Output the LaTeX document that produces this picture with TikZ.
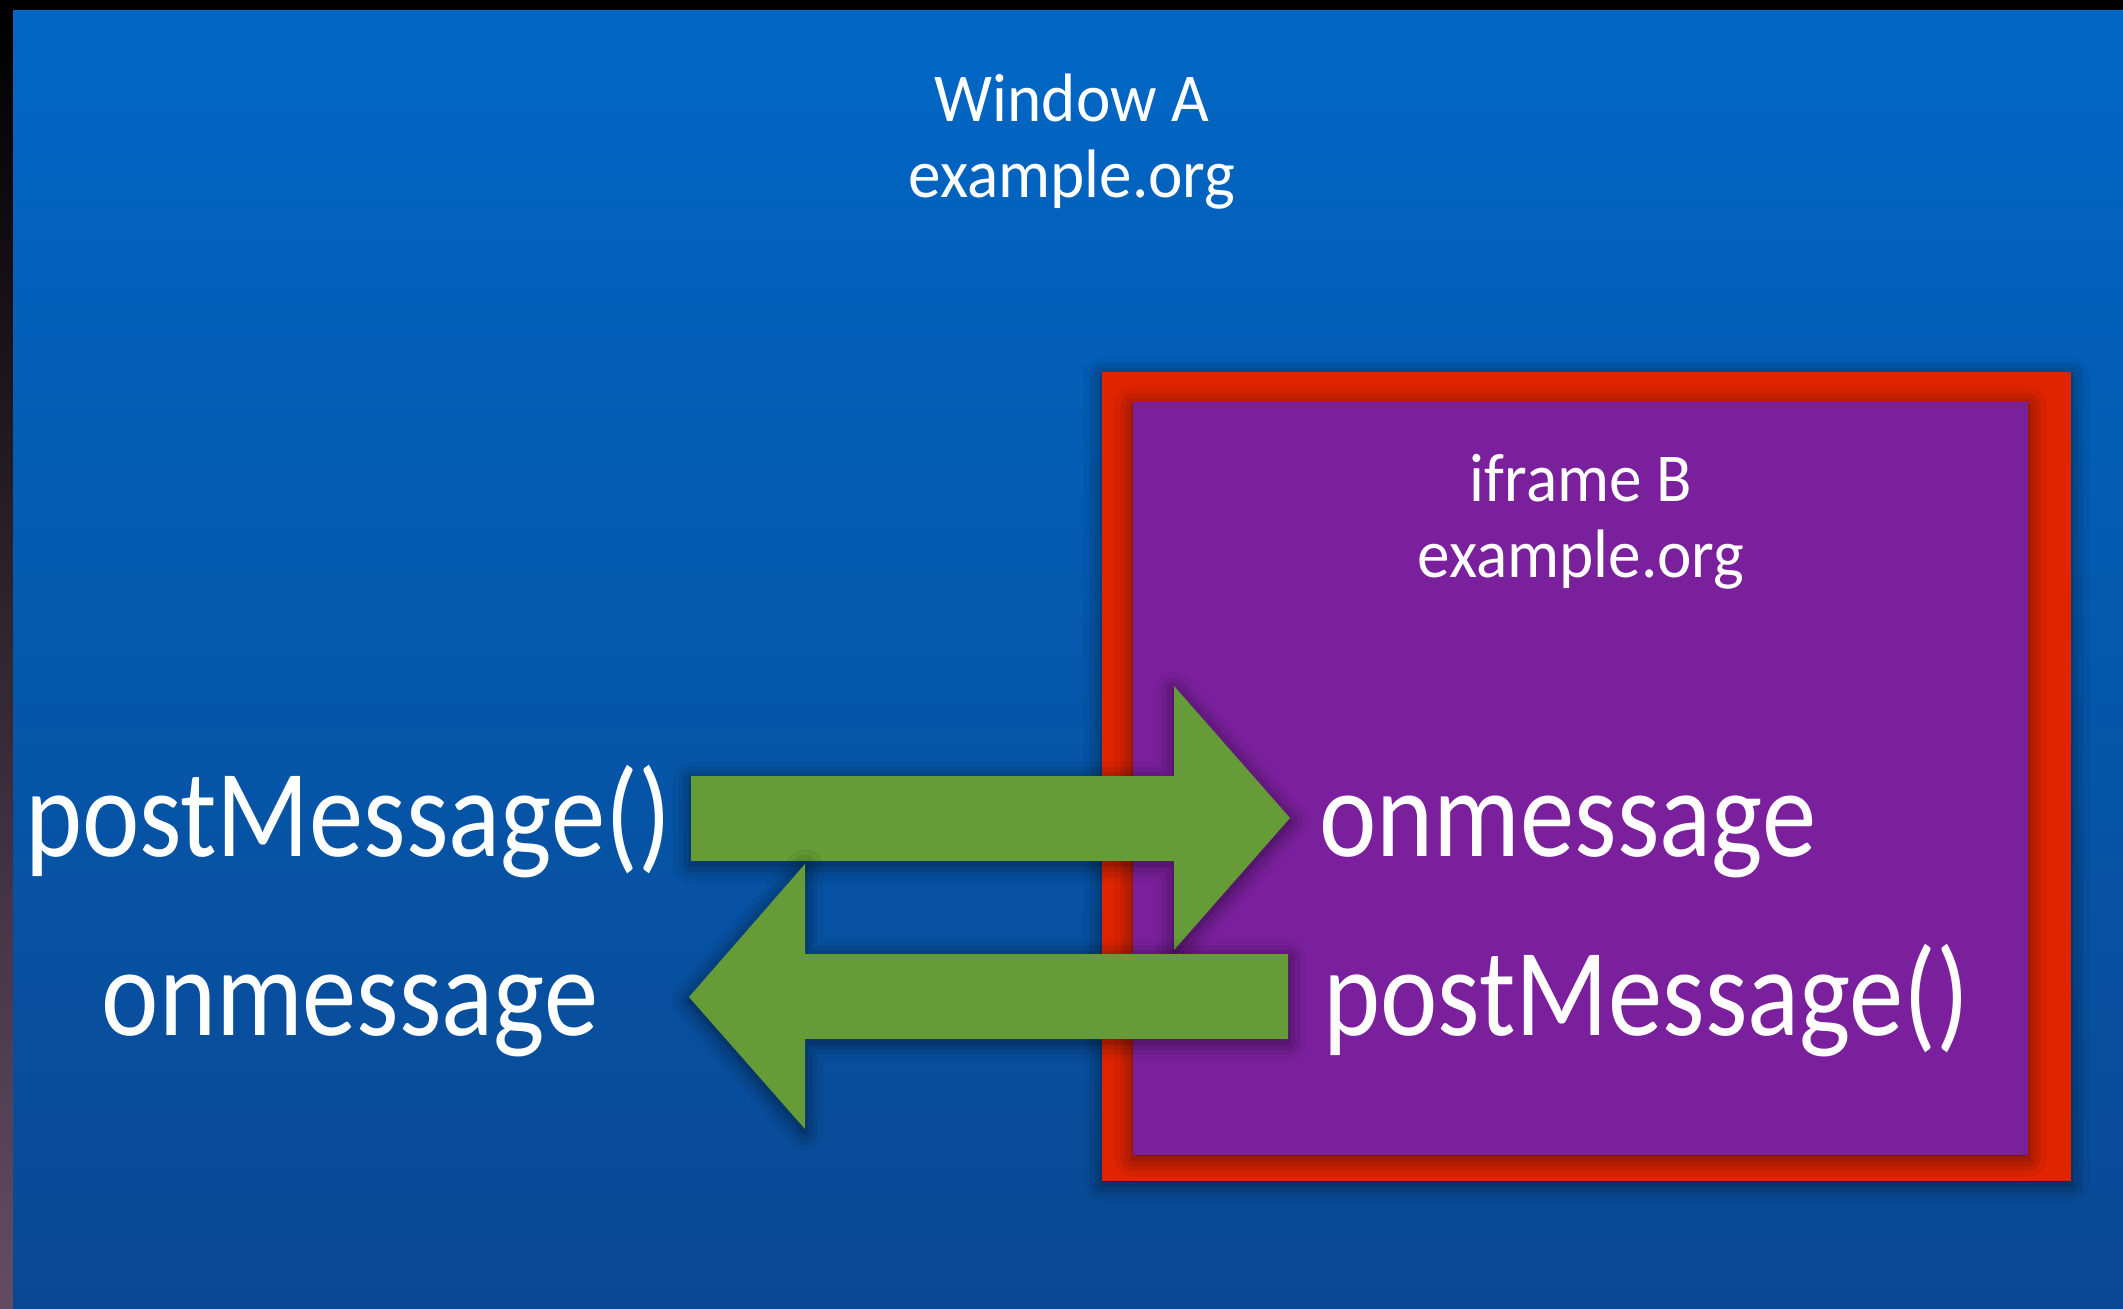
\documentclass[tikz,border=0pt]{standalone}
\usepackage{fontspec}
\setmainfont[FakeStretch=0.95]{Carlito}
\newfontfamily\callfont[FakeStretch=0.87]{Carlito}
\usetikzlibrary{calc,positioning,shadows.blur}

\definecolor{slidetop}{RGB}{0,103,197}
\definecolor{slidebottom}{RGB}{10,72,147}
\definecolor{framered}{RGB}{224,36,0}
\definecolor{framepurple}{RGB}{123,32,157}
\definecolor{arrowgreen}{RGB}{101,156,55}

\tikzset{
  title label/.style={text=white, inner sep=0pt, font=\fontsize{19.5}{23}\selectfont},
  call label/.style={text=white, inner sep=0pt, font=\callfont\fontsize{35.5}{42}\selectfont},
  soft shadow/.style={blur shadow={shadow xshift=0pt, shadow yshift=-1pt,
      shadow blur radius=5pt, shadow opacity=60}},
}

\begin{document}
\begin{tikzpicture}[x=0.01cm,y=-0.01cm]
\useasboundingbox (0,0) rectangle (2123,1308);

% background of the slide
\fill[black] (0,0) rectangle (2123,1308);
\shade[top color=black, bottom color=black!55!violet!40!gray] (0,10) rectangle (13,1308);
\shade[top color=slidetop, bottom color=slidebottom] (13,10) rectangle (2123,1308);

% window A
\node[title label, anchor=base] (wina) at (1072,121) {Window A};
\node[title label, anchor=base] (wina origin) at (1072,197) {example.org};

% iframe B
\fill[framered, soft shadow] (1102,372) rectangle (2071,1181);
\fill[framepurple, soft shadow] (1133,402) rectangle (2028,1155);
\node[title label, anchor=base] (ifrb) at (1581,501) {iframe B};
\node[title label, anchor=base] (ifrb origin) at (1581,577) {example.org};

% the calls
\node[call label, anchor=base] (posta) at (348,856) {postMessage()};
\node[call label, anchor=base] (recva) at (350,1035) {onmessage};
\node[call label, anchor=base west] (recvb) at (1319,856) {onmessage};
\node[call label, anchor=base west] (postb) at (1323,1035) {postMessage()};

% arrow A to B
\coordinate (ab tail) at (691,818);
\coordinate (ab tip) at (1290,818);
\fill[arrowgreen, soft shadow] (ab tail |- 0,776) -- (1174,776) -- (1174,686) -- (ab tip)
  -- (1174,950) -- (1174,861) -- (ab tail |- 0,861) -- cycle;

% arrow B to A
\coordinate (ba tail) at (1288,997);
\coordinate (ba tip) at (689,997);
\fill[arrowgreen, soft shadow] (ba tail |- 0,954) -- (805,954) -- (805,864) -- (ba tip)
  -- (805,1129) -- (805,1039) -- (ba tail |- 0,1039) -- cycle;

\end{tikzpicture}
\end{document}
